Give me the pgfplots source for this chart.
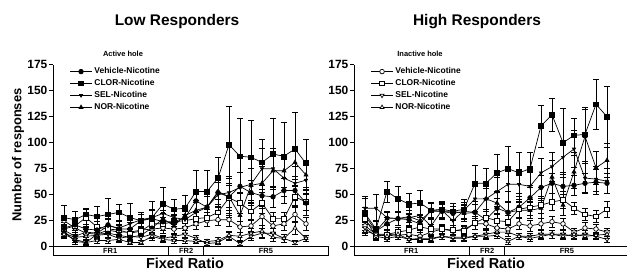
\documentclass[border=0pt]{standalone}
\usepackage{fontspec}
\setmainfont{Liberation Sans}
\usepackage{pgfplots}
\usepackage{pgfplotstable}
\pgfplotsset{compat=1.18}

\pgfplotstableread{
x  a  aE b  bE c  cE d  dE e  eE f  fE g  gE h  hE
1  18 5  28 12 16 6  15 5  25 4  17 5  13 4  12 4
2  21 5  26 8  10 4  5  3  18 4  20 6  9  3  7  3
3  17 5  31 6  14 5  4  3  13 4  28 8  10 3  4  2
4  16 6  29 10 13 5  12 5  12 4  19 5  11 3  6  3
5  21 6  31 16 20 6  13 5  16 4  17 4  12 3  6  3
6  17 5  33 8  18 6  11 4  14 4  16 5  8  3  7  3
7  17 6  28 14 22 8  9  4  14 4  13 4  10 3  4  2
8  25 6  25 8  26 7  11 5  16 4  15 4  9  3  4  2
9  27 8  28 16 28 8  18 6  17 4  22 6  12 4  10 4
10 24 8  41 16 32 8  27 8  18 5  22 6  8  3  7  3
11 24 7  36 10 28 8  20 7  17 5  24 6  10 3  6  3
12 28 8  37 12 26 8  30 10 18 5  25 6  12 4  6  3
13 44 10 53 20 33 10 35 10 22 5  27 6  8  3  5  2
14 38 12 53 20 38 12 38 10 25 5  28 8  3  2  5  2
15 52 14 66 20 50 12 53 14 26 5  33 8  4  2  6  3
16 48 18 98 37 52 14 48 20 26 6  47 12 10 4  11 4
17 58 14 87 36 57 15 30 10 19 5  42 10 3  2  10 4
18 52 12 86 36 60 15 59 16 20 5  34 8  10 4  13 5
19 49 10 81 22 75 20 61 16 29 8  42 10 13 5  15 6
20 48 10 89 34 75 20 73 16 20 6  27 6  13 5  9  4
21 54 12 87 33 66 18 73 16 22 6  27 6  8  4  8  4
22 54 14 94 35 61 16 81 16 31 8  48 10 4  2  18 6
23 42 12 80 23 64 14 69 14 22 6  43 8  8  3  8  3
}\low

\pgfplotstableread{
x  a  aE b   bE c  cE d   dE e  eE f  fE g  gE h  hE
1  25 6  32  16 37 10 30  8  20 6  27 8  18 5  15 4
2  15 5  17  8  37 13 15  5  12 4  10 4  10 3  12 3
3  22 6  53  10 28 6  27  6  12 4  12 5  8  3  10 3
4  27 6  46  12 27 6  27  6  11 4  14 5  10 3  12 3
5  26 6  41  10 28 10 29  6  12 4  16 5  7  3  7  3
6  22 6  42  12 30 10 25  6  10 4  19 5  8  3  7  3
7  35 7  35  8  20 6  34  8  14 4  17 5  8  3  7  3
8  34 7  36  8  35 8  34  8  17 4  17 5  10 3  10 3
9  32 7  34  8  25 8  34  8  15 4  16 5  8  3  9  3
10 34 7  36  10 35 8  32  8  17 4  15 5  8  3  9  3
11 33 8  61  17 46 12 33  8  22 5  23 6  10 3  10 3
12 26 8  61  14 46 10 46  12 22 5  28 6  12 4  10 3
13 37 10 71  18 53 14 42  10 18 5  25 6  14 4  11 3
14 33 10 75  22 60 16 33  10 17 4  24 6  14 4  5  3
15 38 10 71  20 60 14 35  8  22 5  36 8  10 3  10 3
16 47 10 75  16 58 14 35  8  20 5  38 8  10 3  8  3
17 57 12 116 20 71 14 37  10 22 5  40 8  12 4  10 3
18 61 10 127 16 77 14 67  16 24 5  43 8  12 4  12 4
19 58 12 100 33 86 14 40  10 22 5  45 8  12 4  10 3
20 59 10 107 16 94 18 72  16 14 4  37 6  10 3  12 4
21 61 10 108 26 66 14 106 26 18 5  31 6  12 4  10 3
22 62 12 137 24 65 12 76  16 17 5  29 6  10 3  11 3
23 61 10 125 29 63 12 83  16 14 4  36 8  7  3  12 4
}\high

\pgfplotsset{
  panel/.style={
    scale only axis, width=275bp, height=182bp, anchor=south west,
    xmin=0, xmax=25, ymin=0, ymax=175,
    axis x line=none, axis y line=left, axis line style={-, line width=0.8pt},
    xtick=\empty, ytick={0,25,...,175},
    tick align=outside, major tick length=4bp,
    tick style={line width=0.8pt, black},
    yticklabel style={font=\fontsize{12}{12}\selectfont\bfseries, inner sep=1.5pt},
    /pgf/number format/assume math mode=true,
    clip=false,
    legend style={at={(0.06,0.995)}, anchor=north west, draw=none, fill=none,
      font=\fontsize{8.5}{9}\selectfont\bfseries, inner sep=0pt, row sep=0.3pt,
      /tikz/every even column/.append style={column sep=0pt}},
    legend cell align=left,
    legend image code/.code={\draw[mark repeat=2,mark phase=2,##1] plot coordinates {(0bp,0bp)(11bp,0bp)(22bp,0bp)};},
  },
  ser/.style={black, line width=0.7pt, mark size=2.3pt,
    error bars/y dir=both, error bars/y explicit,
    error bars/error bar style={line width=0.6pt, black},
    error bars/error mark options={rotate=90, mark size=2.6pt, line width=0.6pt, black}},
}

\newcommand{\frbox}{%
  \draw[line width=0.8pt] (axis cs:0,0) rectangle (axis cs:25,-8.5);
  \draw[line width=0.8pt] (axis cs:10.45,0) -- (axis cs:10.45,-8.5);
  \draw[line width=0.8pt] (axis cs:13.7,0) -- (axis cs:13.7,-8.5);
  \node[font=\fontsize{7.5}{8}\selectfont\bfseries] at (axis cs:5.2,-4.3) {FR1};
  \node[font=\fontsize{7.5}{8}\selectfont\bfseries] at (axis cs:12.1,-4.3) {FR2};
  \node[font=\fontsize{7.5}{8}\selectfont\bfseries] at (axis cs:19.35,-4.3) {FR5};
  \node[font=\fontsize{14.5}{15}\selectfont\bfseries] at (axis cs:12,-16.2) {Fixed Ratio};
}

\begin{document}
\begin{tikzpicture}
\useasboundingbox (0bp,0bp) rectangle (627bp,272bp);

\node[font=\fontsize{15.5}{16}\selectfont\bfseries] at (177bp,250bp) {Low Responders};
\node[font=\fontsize{15.5}{16}\selectfont\bfseries] at (477bp,250bp) {High Responders};
\node[font=\fontsize{13}{13}\selectfont\bfseries, rotate=90] at (18bp,117bp) {Number of responses};
\node[font=\fontsize{7.5}{8}\selectfont\bfseries] at (123bp,218bp) {Active hole};
\node[font=\fontsize{7.5}{8}\selectfont\bfseries] at (420bp,218bp) {Inactive hole};

\begin{axis}[panel, at={(53bp,25.3bp)}]
  \addplot[ser, forget plot, mark=*, mark options={fill=white, solid}] table[x=x, y=e, y error=eE] {\low};
  \addplot[ser, forget plot, mark=square*, mark options={fill=white, solid}] table[x=x, y=f, y error=fE] {\low};
  \addplot[ser, forget plot, mark=triangle*, mark options={fill=white, solid, rotate=180}] table[x=x, y=g, y error=gE] {\low};
  \addplot[ser, forget plot, mark=triangle*, mark options={fill=white, solid}] table[x=x, y=h, y error=hE] {\low};
  \addplot[ser, mark=*, mark options={fill=black, solid}] table[x=x, y=a, y error=aE] {\low};
  \addlegendentry{Vehicle-Nicotine}
  \addplot[ser, mark=square*, mark options={fill=black, solid}] table[x=x, y=b, y error=bE] {\low};
  \addlegendentry{CLOR-Nicotine}
  \addplot[ser, mark=triangle*, mark size=1.8pt, mark options={fill=black, solid, rotate=180}] table[x=x, y=c, y error=cE] {\low};
  \addlegendentry{SEL-Nicotine}
  \addplot[ser, mark=triangle*, mark options={fill=black, solid}] table[x=x, y=d, y error=dE] {\low};
  \addlegendentry{NOR-Nicotine}
  \frbox
\end{axis}

\begin{axis}[panel, at={(354bp,25.3bp)}]
  \addplot[ser, forget plot, mark=*, mark options={fill=black, solid}] table[x=x, y=a, y error=aE] {\high};
  \addplot[ser, forget plot, mark=square*, mark options={fill=black, solid}] table[x=x, y=b, y error=bE] {\high};
  \addplot[ser, forget plot, mark=triangle*, mark size=1.8pt, mark options={fill=black, solid, rotate=180}] table[x=x, y=c, y error=cE] {\high};
  \addplot[ser, forget plot, mark=triangle*, mark options={fill=black, solid}] table[x=x, y=d, y error=dE] {\high};
  \addplot[ser, mark=*, mark options={fill=white, solid}] table[x=x, y=e, y error=eE] {\high};
  \addlegendentry{Vehicle-Nicotine}
  \addplot[ser, mark=square*, mark options={fill=white, solid}] table[x=x, y=f, y error=fE] {\high};
  \addlegendentry{CLOR-Nicotine}
  \addplot[ser, mark=triangle*, mark options={fill=white, solid, rotate=180}] table[x=x, y=g, y error=gE] {\high};
  \addlegendentry{SEL-Nicotine}
  \addplot[ser, mark=triangle*, mark options={fill=white, solid}] table[x=x, y=h, y error=hE] {\high};
  \addlegendentry{NOR-Nicotine}
  \frbox
\end{axis}
\end{tikzpicture}
\end{document}
